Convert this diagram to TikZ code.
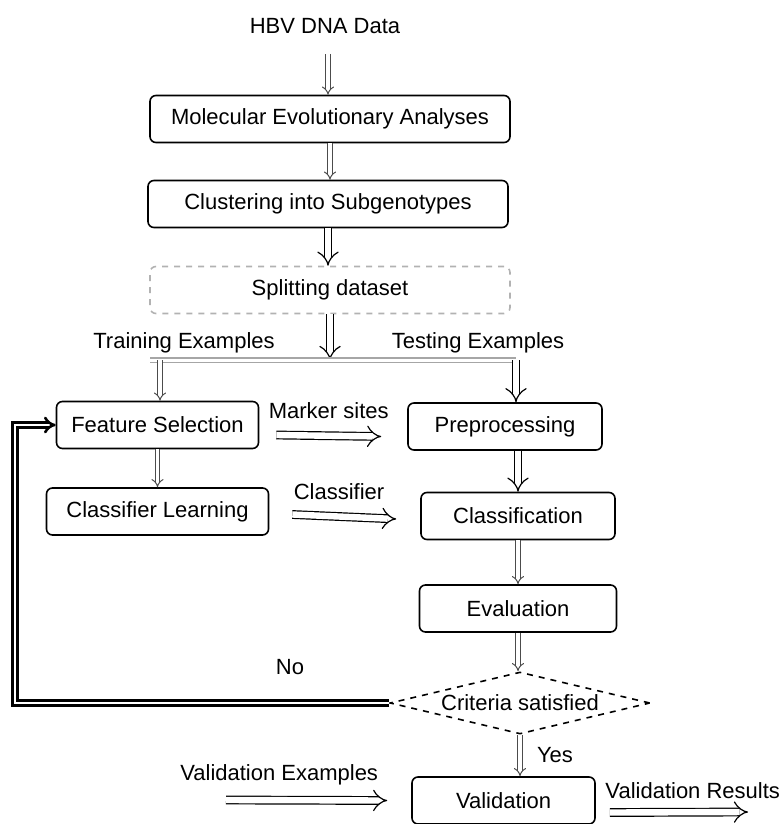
\documentclass[tikz,border=0pt]{standalone}
\usepackage{fontspec}
\setmainfont{Liberation Sans}
\usetikzlibrary{arrows.meta, shapes.geometric}

\begin{document}
\begin{tikzpicture}[x=0.5pt, y=-0.5pt,
    every node/.style={font=\fontsize{11}{13}\selectfont},
    box/.style={draw, thick, rounded corners=3pt, minimum height=23.5pt, inner sep=2pt},
    flow/.style={draw, double, double distance=3.2pt, line width=0.6pt, -{Implies[scale=1.3]}},
    thinflow/.style={draw=gray!60!black, double, double distance=1.6pt, line width=0.5pt, -{Implies[scale=1.3]}},
    loopline/.style={draw, double, double distance=1.4pt, line width=1.3pt, -{Implies}}]
  \useasboundingbox (0,0) rectangle (782,824);

  \node (hbv) at (325,26) {HBV DNA Data};
  \node[box, minimum width=180pt] (mol) at (330,119) {Molecular Evolutionary Analyses};
  \node[box, minimum width=180pt] (clus) at (328,204) {Clustering into Subgenotypes};
  \node[box, draw=gray!60, dashed, minimum width=180pt] (split) at (330,290) {Splitting dataset};
  \node (train) at (184,343) {Training Examples};
  \node (test) at (478,343) {Testing Examples};
  \node[box, minimum width=101pt] (feat) at (157.5,425) {Feature Selection};
  \node[box, minimum width=97pt] (prep) at (505,426.5) {Preprocessing};
  \node[box, minimum width=111pt] (learn) at (157.5,511.5) {Classifier Learning};
  \node[box, minimum width=97pt] (cls) at (518,516) {Classification};
  \node[box, minimum width=98.5pt] (eval) at (518,608.5) {Evaluation};
  \node[draw, thick, dashed, diamond, aspect=4.2, inner sep=0pt,
        minimum width=130pt, minimum height=31pt] (crit) at (520,703) {Criteria satisfied};
  \node[box, minimum width=91.5pt] (valid) at (503.5,800.5) {Validation};
  \node (no) at (290,667) {No};
  \node (yes) at (555,755) {Yes};

  \coordinate (in) at (328,54);
  \coordinate (barL) at (150,360);
  \coordinate (splitL) at (160,360);
  \coordinate (splitR) at (516,360);
  \coordinate (loop) at (15,703);
  \coordinate (vex) at (226,800);
  \coordinate (vres) at (748,812);

  \draw[thinflow] (in) -- (in |- mol.north);
  \draw[thinflow] (mol.south) -- (mol.south |- clus.north);
  \draw[flow] (clus.south) -- (clus.south |- split.north);
  \draw[flow] (split.south) -- (split.south |- splitR);
  \draw[draw=gray!70, double, double distance=1.5pt, line width=0.6pt] (barL) -- (splitR);
  \draw[thinflow] (splitL) -- (splitL |- feat.north);
  \draw[flow] (splitR) -- (splitR |- prep.north);
  \draw[flow] ([shift={(17,10)}]feat.east) -- node[above=5pt]{Marker sites} ([shift={(-26,10)}]prep.west);
  \draw[thinflow] (feat.south) -- (feat.south |- learn.north);
  \draw[flow] (cls.north |- prep.south) -- (cls.north);
  \draw[flow] ([shift={(23,3)}]learn.east) -- node[above=5pt, pos=0.45]{Classifier} ([shift={(-24,3)}]cls.west);
  \draw[thinflow] (cls.south) -- (eval.north);
  \draw[thinflow] (eval.south) -- (eval.south |- crit.north);
  \draw[thinflow] (crit.south) -- (crit.south |- valid.north);
  \draw[loopline] (crit.west) -- (loop) |- (feat.west);
  \draw[flow] (vex) -- node[above=4pt, pos=0.33]{Validation Examples} ([xshift=-12]valid.west);
  \draw[flow] ([shift={(14,12)}]valid.east) -- node[above=3pt, pos=0.6]{Validation Results} (vres);
\end{tikzpicture}
\end{document}
